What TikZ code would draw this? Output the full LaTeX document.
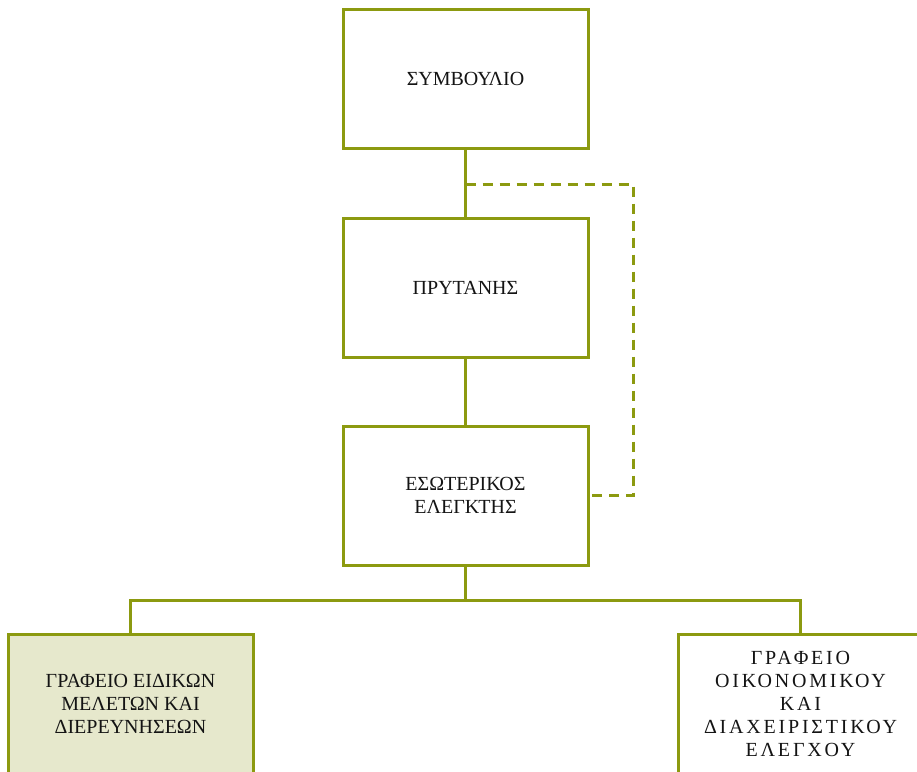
\documentclass[tikz,border=0pt]{standalone}
\usepackage{fontspec}
\setmainfont{Liberation Serif}
\usepackage{tikz}
\usetikzlibrary{positioning}
\definecolor{olive}{RGB}{140,154,16}
\definecolor{paleolive}{RGB}{230,232,204}
\definecolor{ink}{RGB}{20,20,20}

\begin{document}
\begin{tikzpicture}[x=1pt, y=1pt, font=\fontsize{20}{23}\selectfont, text=ink,
		box/.style={draw=olive, line width=3pt, fill=white, minimum width=245pt, minimum height=139pt, align=center, inner sep=2pt},
		wire/.style={draw=olive, line width=3pt},
		dashwire/.style={wire, dash pattern=on 10pt off 7pt}]
		\useasboundingbox (0,0) rectangle (917,-771);
		\draw (465.5, -79.0)node[box](symv){ΣΥΜΒΟΥΛΙΟ};
		\draw (465.5, -287.5)node[box](pryt){ΠΡΥΤΑΝΗΣ};
		\draw (465.5, -495.5)node[box](esot){ΕΣΩΤΕΡΙΚΟΣ\\ΕΛΕΓΚΤΗΣ};
		\draw (130.5, -703.5)node[box, fill=paleolive](graf1){ΓΡΑΦΕΙΟ ΕΙΔΙΚΩΝ\\ΜΕΛΕΤΩΝ ΚΑΙ\\ΔΙΕΡΕΥΝΗΣΕΩΝ};
		\draw (800.5, -703.5)node[box, font=\fontsize{20}{23}\selectfont\addfontfeatures{LetterSpace=14}](graf2){ΓΡΑΦΕΙΟ\\ΟΙΚΟΝΟΜΙΚΟΥ\\ΚΑΙ\\ΔΙΑΧΕΙΡΙΣΤΙΚΟΥ\\ΕΛΕΓΧΟΥ};
		\coordinate (tap) at (465.5, -184.0);
		\coordinate (turn) at (633.0, -184.0);
		\coordinate (bus) at (465.5, -600.0);
		\path[wire] (symv) edge (pryt);
		\path[wire] (pryt) edge (esot);
		\path[wire] (esot) edge (bus);
		\draw[dashwire] (tap) -- (turn) |- (esot.east);
		\draw[wire] (graf1.north) |- (bus) -| (graf2.north);
		\end{tikzpicture}
\end{document}
